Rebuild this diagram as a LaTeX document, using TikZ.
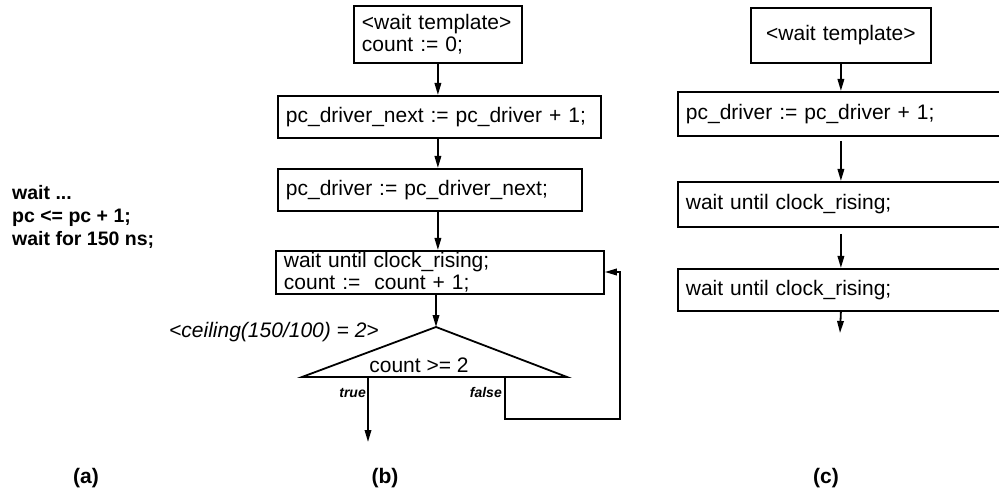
\documentclass[tikz,border=0pt]{standalone}
\usepackage{fontspec}
\setmainfont{Liberation Sans}
\usetikzlibrary{arrows.meta,calc}

\tikzset{
  boxline/.style={line width=1.8pt},
  stmt/.style={draw, boxline, anchor=north west, inner xsep=8pt, inner ysep=0pt,
               align=left, font=\fontsize{21}{22}\selectfont},
  flow/.style={boxline, -{Triangle[length=12pt,width=6.5pt]}},
  code/.style={anchor=base west, inner sep=0pt, font=\fontsize{19.5}{23}\selectfont\bfseries},
  branch/.style={anchor=base east, inner sep=0pt, font=\fontsize{14}{14}\selectfont\bfseries\itshape},
  caption/.style={inner sep=0pt, font=\fontsize{21}{21}\selectfont\bfseries},
}

\begin{document}
\begin{tikzpicture}[x=1pt,y=-1pt]
\useasboundingbox (0,0) rectangle (999,497);
\clip (0,0) rectangle (999,497);

% (a) source text
\node[code] (srcA) at (12,200) {wait ...};
\node[code] (srcB) at (12,223) {pc <= pc + 1;};
\node[code] (srcC) at (12,246) {wait for 150 ns;};

% (b) expanded loop with counter
\node[stmt, text width=152pt, minimum height=57pt] (b1) at (353,5)
  {<wait template>\\count := 0;};
\node[stmt, text width=307pt, minimum height=42pt] (b2) at (277,95)
  {pc\_driver\_next := pc\_driver + 1;};
\node[stmt, text width=288pt, minimum height=42pt] (b3) at (277,168)
  {pc\_driver := pc\_driver\_next;};
\node[stmt, text width=312pt, minimum height=43pt] (b4) at (275,250)
  {wait until clock\_rising;\\count :=~ count + 1;};

\coordinate (apex) at (436,327);
\coordinate (bl) at (302,377);
\coordinate (br) at (567,377);
\draw[boxline, line join=miter] (bl) -- (apex) -- (br) -- cycle;
\node[anchor=base, inner sep=0pt, font=\fontsize{21}{21}\selectfont] (cond) at (419,372) {count >= 2};
\node[anchor=base west, inner sep=0pt, font=\fontsize{21}{21}\selectfont\itshape] (ceil) at (169,337)
  {<ceiling(150/100) = 2>};

\draw[flow] (b1.south) -- (b1.south |- b2.north);
\draw[flow] (b1.south |- b2.south) -- (b1.south |- b3.north);
\draw[flow] (b1.south |- b3.south) -- (b1.south |- b4.north);
\draw[flow] (apex |- b4.south) -- (apex);

% true / false exits
\coordinate (tT) at (368,377);
\coordinate (tEnd) at (368,442);
\draw[flow] (tT) -- (tEnd);
\node[branch] (tlab) at (366,397) {true};

\coordinate (fT) at (505,377);
\coordinate (fC1) at (505,419);
\coordinate (fC2) at (620,419);
\coordinate (fC3) at (620,272);
\draw[flow, line join=miter] (fT) -- (fC1) -- (fC2) -- (fC3) -- (fC3 -| b4.east);
\node[branch] (flab) at (502,397) {false};

% (c) unrolled version
\node[stmt, align=center, text width=164pt, minimum height=55pt] (c1) at (750,7)
  {<wait template>};
\node[stmt, text width=384pt, minimum height=44pt] (c2) at (677,91)
  {pc\_driver := pc\_driver + 1;};
\node[stmt, text width=384pt, minimum height=45pt] (c3) at (677,181)
  {wait until clock\_rising;};
\node[stmt, text width=384pt, minimum height=42pt] (c4) at (677,268)
  {wait until clock\_rising;};
\coordinate (cEnd) at (840,333);

\draw[flow] (c1.south) -- (c1.south |- c2.north);
\draw[flow, shorten <=4pt] (c1.south |- c2.south) -- (c1.south |- c3.north);
\draw[flow, shorten <=6pt] (c1.south |- c3.south) -- (c1.south |- c4.north);
\draw[flow] (c1.south |- c4.south) -- (cEnd);

% captions
\node[caption] (capA) at (86,478) {(a)};
\node[caption] (capB) at (385,478) {(b)};
\node[caption] (capC) at (826,478) {(c)};
\end{tikzpicture}
\end{document}
